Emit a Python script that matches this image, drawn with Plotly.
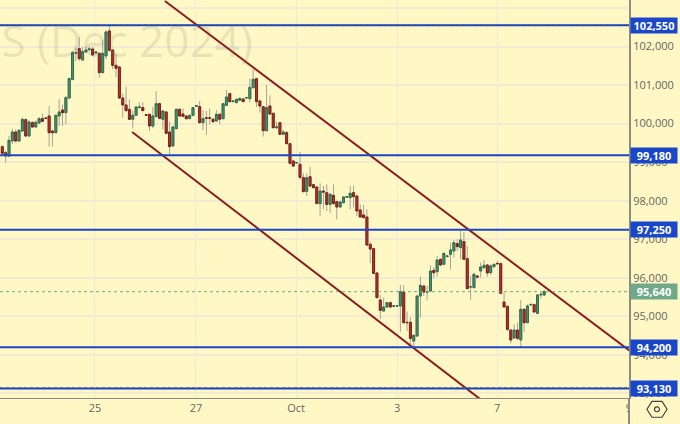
import plotly.graph_objects as go

# one row per candle
opens = [99400, 99245, 99160, 99549, 99783, 99549, 99808, 100103, 99679, 100025, 99912, 100016, 100129, 100146, 100198, 99808, 99765, 100198, 100353, 100284,
         100665, 101149, 101824, 101945, 101651, 101859, 101919, 101936, 101832, 101824, 101322, 101755, 102404, 101910, 101513, 101470, 100665, 100484, 100371, 100112,
         100216, 100415, 100415, 100233, 100241, 99939, 100181, 100518, 100112, 100302, 99783, 99420, 99870, 100371, 100250, 100198, 100129, 100216, 100449, 100440,
         100025, 100150, 100150, 100112, 100069, 100241, 100129, 100474, 100777, 100570, 100544, 100604, 100639, 100665, 100647, 100933, 101166, 100587, 100440, 99817,
         100457, 100267, 99895, 100025, 99722, 99765, 99479, 99030, 98980, 98943, 98597, 98243, 98623, 98416, 98355, 97923, 98251, 98208, 97905, 98139,
         97976, 97837, 97950, 98090, 98080, 98209, 98123, 97760, 97630, 97578, 96868, 96756, 96125, 95424, 95139, 95242, 95355, 95260, 95265, 95268,
         95640, 94845, 94845, 94360, 94490, 95528, 95787, 95625, 95658, 96194, 96160, 96479, 96350, 96550, 96610, 96696, 96887, 96783, 96938, 96497,
         95760, 95745, 96047, 96177, 96264, 96333, 96134, 96290, 96375, 96368, 95373, 95260, 94646, 94439, 94646, 94387, 95183, 94837, 95295, 95304,
         95079, 95555, 95554]
highs = [99445, 99290, 99679, 99869, 99852, 99852, 100155, 100137, 100085, 100068, 100085, 100172, 100258, 100155, 100457, 99826, 100241, 100630, 100500, 100717,
         101193, 101885, 101971, 102248, 101988, 102014, 102014, 101988, 101870, 101841, 102161, 102421, 102577, 101928, 101799, 101478, 100778, 100951, 100631, 100328,
         100458, 100562, 100562, 100245, 100259, 100432, 100847, 100544, 100345, 100328, 100043, 99939, 100397, 100397, 100397, 100216, 100224, 100432, 100480, 100587,
         100345, 100328, 100397, 100155, 100345, 100285, 100536, 100872, 100803, 100600, 100647, 100670, 100656, 100685, 101166, 101408, 101192, 100630, 100457, 101002,
         100734, 100284, 100050, 100042, 99834, 99808, 99497, 99056, 99000, 99263, 98710, 98710, 98883, 98430, 98381, 98450, 98381, 98424, 98208, 98424,
         97993, 97993, 98105, 98115, 98382, 98382, 98140, 97907, 97889, 97777, 96938, 96782, 96142, 95554, 95485, 95372, 95381, 95280, 95285, 95813,
         95813, 95121, 94983, 94533, 95528, 96030, 95813, 95787, 96324, 96280, 96566, 96505, 96652, 96580, 96912, 96982, 96999, 97215, 97189, 96826,
         96047, 96134, 96065, 96394, 96463, 96350, 96350, 96368, 96437, 96394, 95615, 95278, 94664, 94793, 94837, 95425, 95209, 95312, 95325, 95330,
         95572, 95615, 95700]
lows = [99205, 98985, 99134, 99463, 99506, 99540, 99791, 99653, 99661, 99895, 99895, 99999, 100042, 100129, 99402, 99402, 99748, 99938, 99938, 99981,
        100630, 101123, 101625, 101625, 101642, 101824, 101885, 101763, 101820, 101193, 101305, 101668, 101867, 101409, 101210, 100648, 100155, 100311, 100103, 99878,
        100198, 100397, 100328, 100205, 99809, 99878, 100155, 100112, 99852, 99723, 99204, 99403, 99852, 100172, 100172, 100095, 100112, 100190, 100440, 99999,
        99835, 99705, 99982, 100025, 100051, 99982, 100112, 100457, 100544, 100560, 100526, 100595, 100561, 100655, 100544, 100907, 100431, 100284, 99661, 99800,
        100232, 99877, 99852, 99704, 99704, 99462, 98943, 98874, 98970, 98554, 98225, 98122, 98355, 98325, 97905, 97603, 97776, 97732, 97689, 97888,
        97517, 97820, 97932, 98080, 97777, 97820, 97604, 97560, 97543, 96825, 96375, 96090, 95467, 94922, 95121, 95225, 95225, 95250, 95255, 94602,
        94810, 94620, 94274, 94230, 94473, 94966, 95528, 95415, 95632, 95986, 96030, 96306, 96332, 96535, 96220, 96523, 96696, 96480, 96463, 95702,
        95425, 95727, 95978, 96004, 96220, 96030, 96073, 96264, 96355, 95572, 95226, 94620, 94300, 94421, 94387, 94214, 94594, 94819, 95285, 95096,
        95053, 95459, 95529]
closes = [99230, 99160, 99566, 99783, 99549, 99826, 100111, 99679, 100042, 99912, 100033, 100129, 100059, 100137, 99765, 99765, 100215, 100302, 100284, 100674,
          101167, 101841, 101841, 101686, 101867, 101910, 101936, 101781, 101858, 101322, 101824, 102378, 101902, 101513, 101435, 100665, 100484, 100337, 100112, 100216,
          100432, 100432, 100337, 100216, 99939, 100198, 100518, 100138, 100328, 99749, 99403, 99913, 100371, 100198, 100190, 100129, 100216, 100415, 100467, 100025,
          100129, 100140, 100140, 100051, 100241, 100112, 100518, 100691, 100570, 100587, 100630, 100656, 100570, 100675, 100941, 101149, 100570, 100457, 99817, 100414,
          100249, 99895, 99912, 99722, 99782, 99479, 98969, 98900, 98990, 98606, 98234, 98597, 98381, 98338, 97931, 98251, 98225, 97905, 98165, 97931,
          97837, 97967, 98097, 98105, 98192, 98105, 97734, 97578, 97560, 96851, 96747, 96116, 95485, 95156, 95242, 95355, 95242, 95270, 95275, 95640,
          94836, 94836, 94429, 94507, 95528, 95805, 95632, 95640, 96177, 96133, 96462, 96332, 96635, 96565, 96722, 96912, 96809, 96982, 96480, 95719,
          95770, 96091, 96021, 96281, 96324, 96125, 96307, 96350, 96365, 95598, 95243, 94664, 94387, 94646, 94430, 95183, 94837, 95269, 95310, 95113,
          95554, 95572, 95640]

candle_idx = list(range(len(opens)))

tick_pos = [27.7, 57.9, 87.8, 118.0, 147.9, 187.3]
tick_text = ["25", "27", "Oct", "3", "7", "9"]
price_ticks = [103000, 102000, 101000, 100000, 99000, 98000, 97000, 96000, 95000, 94000, 93000]

levels = [102550, 99180, 97250, 94200, 93130]
dotted_levels = [102550, 93130]
last_price = 95640

upper_x = [48.6, 187.6]
upper_y = [103182, 94102]
lower_x = [38.8, 142.8]
lower_y = [99783, 92857]

BG = "#fff8c4"
BLUE = "#1a47c9"
CHANNEL = "#8a1c20"

fig = go.Figure()

# wicks first, bodies on top so the wick stays grey
fig.add_trace(
    go.Candlestick(
        x=candle_idx,
        open=opens,
        high=highs,
        low=lows,
        close=closes,
        increasing=dict(line=dict(color="#a3a398", width=1), fillcolor="#a3a398"),
        decreasing=dict(line=dict(color="#a3a398", width=1), fillcolor="#a3a398"),
        whiskerwidth=0,
        hoverinfo="skip",
    )
)
fig.add_trace(
    go.Candlestick(
        x=candle_idx,
        open=opens,
        high=[max(o, c) for o, c in zip(opens, closes)],
        low=[min(o, c) for o, c in zip(opens, closes)],
        close=closes,
        increasing=dict(line=dict(color="#2f6f4e", width=1), fillcolor="#4a9470"),
        decreasing=dict(line=dict(color="#7d2018", width=1), fillcolor="#b5342a"),
        whiskerwidth=0,
    )
)

for xs, ys in [(upper_x, upper_y), (lower_x, lower_y)]:
    fig.add_trace(
        go.Scatter(x=xs, y=ys, mode="lines", line=dict(color=CHANNEL, width=2), hoverinfo="skip")
    )

for level in levels:
    fig.add_shape(
        type="line", xref="paper", x0=0, x1=1, y0=level, y1=level,
        line=dict(color=BLUE, width=2), layer="above",
    )
    fig.add_annotation(
        xref="paper", x=1, xshift=1, xanchor="left", y=level, yanchor="middle",
        text=f"<b>{level:,}</b>", showarrow=False, width=44, height=13, bgcolor=BLUE, borderpad=1,
        font=dict(color="white", size=11, family="Open Sans"),
    )

for level in dotted_levels:
    fig.add_shape(
        type="line", xref="paper", x0=0, x1=1, y0=level + 20, y1=level + 20,
        line=dict(color="#5a6a80", width=1, dash="dot"), layer="above",
    )

fig.add_shape(
    type="line", xref="paper", x0=0, x1=1, y0=last_price, y1=last_price,
    line=dict(color="#6fa98a", width=1, dash="dot"), layer="above",
)
fig.add_annotation(
    xref="paper", x=1, xshift=1, xanchor="left", y=last_price, yanchor="middle",
    text=f"<b>{last_price:,}</b>", showarrow=False, width=44, height=13, bgcolor="#6fa98a", borderpad=1,
    font=dict(color="white", size=11, family="Open Sans"),
)

# watermark, runs off the left edge
fig.add_annotation(
    xref="paper", yref="paper", x=255 / 629, xanchor="right", y=1 - 40 / 398, yanchor="middle",
    text="ES (Dec 2024)", showarrow=False,
    font=dict(size=44, color="rgba(110,110,110,0.16)", family="Open Sans"),
)

# price scale covers the right half of the last date label
fig.add_shape(
    type="rect", xref="paper", yref="paper", x0=1.001, x1=1.03, y0=-0.06, y1=-0.002,
    line=dict(width=0), fillcolor=BG, layer="above",
)
fig.add_shape(
    type="line", xref="paper", yref="paper", x0=1, x1=1, y0=-0.07, y1=0,
    line=dict(color="#8c8c84", width=2), layer="above",
)

# settings icon
fig.add_shape(
    type="path", xref="paper", yref="paper",
    path="M 1.0285 -0.0284 L 1.0365 -0.0084 L 1.0525 -0.0084 L 1.0605 -0.0284 L 1.0525 -0.0484 L 1.0365 -0.0484 Z",
    line=dict(color="#444444", width=1.2), layer="above",
)
fig.add_shape(
    type="circle", xref="paper", yref="paper", x0=1.0405, x1=1.0485, y0=-0.0346, y1=-0.0222,
    line=dict(color="#444444", width=1.2), layer="above",
)

fig.update_xaxes(
    range=[-0.69, 187.35],
    tickvals=tick_pos,
    ticktext=tick_text,
    showgrid=True,
    gridcolor="#eeeadb",
    gridwidth=1,
    zeroline=False,
    showline=True,
    linecolor="#8c8c84",
    linewidth=1,
    ticks="",
    rangeslider=dict(visible=False),
    tickfont=dict(size=11, color="#666666", family="Open Sans"),
)
fig.update_yaxes(
    range=[92882, 103207],
    side="right",
    tickvals=price_ticks,
    tickformat=",d",
    showgrid=True,
    gridcolor="#f1ebd3",
    gridwidth=2,
    zeroline=False,
    showline=True,
    linecolor="#8c8c84",
    linewidth=2,
    ticks="",
    tickfont=dict(size=11, color="#666666", family="Open Sans"),
)
fig.update_layout(
    width=680,
    height=424,
    margin=dict(l=0, r=51, t=0, b=26),
    paper_bgcolor=BG,
    plot_bgcolor=BG,
    showlegend=False,
    boxgap=0.15,
)

fig.write_html(
    "out.html",
    config={"displayModeBar": False},
    post_script="document.body.style.margin='0';document.documentElement.style.overflow='hidden';",
)
